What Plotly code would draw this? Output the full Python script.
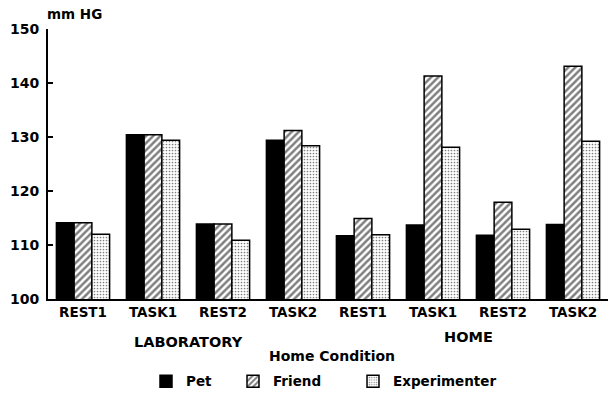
import plotly.graph_objects as go

conditions = ["REST1", "TASK1", "REST2", "TASK2", "REST1", "TASK1", "REST2", "TASK2"]
pet = [114.1, 130.4, 113.9, 129.4, 111.7, 113.7, 111.8, 113.8]
friend = [114.1, 130.4, 113.9, 131.2, 114.9, 141.3, 117.9, 143.1]
experimenter = [112.0, 129.4, 110.9, 128.4, 111.9, 128.1, 112.9, 129.2]
y_ticks = [100, 110, 120, 130, 140, 150]

FONT = "DejaVu Sans"
xpos = list(range(len(conditions)))

fig = go.Figure()
fig.add_trace(go.Bar(
    x=xpos, y=pet, name="Pet", legend="legend",
    marker=dict(color="black", line=dict(color="black", width=1.5)),
))
fig.add_trace(go.Bar(
    x=xpos, y=friend, name="Friend", legend="legend2",
    marker=dict(color="white", line=dict(color="black", width=1.5),
                pattern=dict(shape="/", fgcolor="black", bgcolor="white",
                             size=5, solidity=0.5)),
))
fig.add_trace(go.Bar(
    x=xpos, y=experimenter, name="Experimenter", legend="legend3",
    marker=dict(color="white", line=dict(color="black", width=1.5),
                pattern=dict(shape=".", fgcolor="black", bgcolor="white",
                             size=3, solidity=0.25)),
))

legend_common = dict(orientation="h", yanchor="middle", y=-0.305, xanchor="left",
                     bgcolor="rgba(0,0,0,0)",
                     font=dict(family=FONT, size=13.5, color="black", weight="bold"))

fig.update_layout(
    width=613, height=404,
    margin=dict(l=48, r=5, t=29, b=105),
    paper_bgcolor="white", plot_bgcolor="white",
    barmode="group", bargap=0.24, bargroupgap=0,
    font=dict(family=FONT, size=13.5, color="black", weight="bold"),
    showlegend=True,
    legend=dict(legend_common, x=(146 - 48) / 560),
    legend2=dict(legend_common, x=(233 - 48) / 560),
    legend3=dict(legend_common, x=(353 - 48) / 560),
    xaxis=dict(
        range=[-0.5, 7.5], tickvals=xpos, ticktext=conditions,
        showline=True, linecolor="black", linewidth=2, ticks="",
        showgrid=False, zeroline=False, automargin=False,
        tickfont=dict(family=FONT, size=13.5, color="black", weight="bold"),
    ),
    yaxis=dict(
        range=[100, 150], tickvals=y_ticks,
        showline=True, linecolor="black", linewidth=2,
        ticks="inside", ticklen=5, tickwidth=1.5, tickcolor="black",
        showgrid=False, zeroline=False, ticklabelstandoff=4, automargin=False,
        tickfont=dict(family=FONT, size=14, color="black", weight="bold"),
    ),
    annotations=[
        dict(text="mm HG", xref="paper", yref="paper", x=-0.006, y=1.056,
             xanchor="left", yanchor="middle", showarrow=False,
             font=dict(family=FONT, size=13.5, color="black", weight="bold")),
        dict(text="LABORATORY", xref="x", yref="paper", x=1.5, y=(299 - 342) / 270,
             xanchor="center", yanchor="middle", showarrow=False,
             font=dict(family=FONT, size=14.5, color="black", weight="bold")),
        dict(text="HOME", xref="x", yref="paper", x=5.5, y=(299 - 337) / 270,
             xanchor="center", yanchor="middle", showarrow=False,
             font=dict(family=FONT, size=14.5, color="black", weight="bold")),
        dict(text="Home Condition", xref="paper", yref="paper", x=(332 - 48) / 560,
             y=(299 - 356) / 270, xanchor="center", yanchor="middle", showarrow=False,
             font=dict(family=FONT, size=14, color="black", weight="bold")),
    ],
)

fig.write_html("out.html", config={"displayModeBar": False},
               post_script="document.body.style.margin='0';")
